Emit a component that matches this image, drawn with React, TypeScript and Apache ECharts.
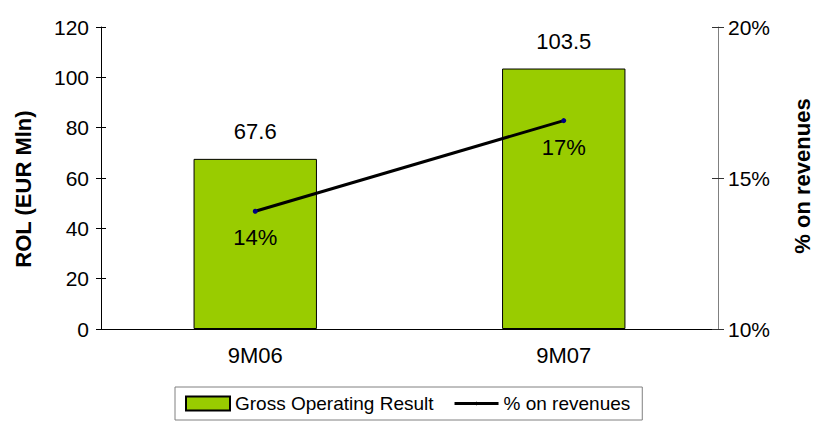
import React, { useEffect, useRef } from "react";
import * as echarts from "echarts";

const categories = ["9M06", "9M07"];
const grossOperatingResult = [67.6, 103.5];
const pctOnRevenues = [13.9, 16.9];
const leftTicks = { min: 0, max: 120, interval: 20 };
const rightTicks = { min: 10, max: 20, interval: 5 };
const leftTitle = "ROL (EUR Mln)";
const rightTitle = "% on revenues";

const FONT = "Liberation Sans, Arial, sans-serif";

export default function App() {
  const ref = useRef<HTMLDivElement>(null);
  useEffect(() => {
    if (!ref.current) return;
    const chart = echarts.init(ref.current, null, { renderer: "svg" });
    chart.setOption({
      animation: false,
      textStyle: { fontFamily: FONT, color: "#000" },
      grid: { left: 101, right: 96, top: 27, bottom: 97, containLabel: false, outerBoundsMode: "none" },
      legend: {
        left: 175,
        top: 387,
        padding: [7, 12, 7, 10],
        borderColor: "#808080",
        borderWidth: 1,
        itemGap: 21,
        itemWidth: 44,
        itemHeight: 14,
        symbolKeepAspect: true,
        textStyle: { fontSize: 19, color: "#000", fontFamily: FONT },
        data: [
          { name: "Gross Operating Result", icon: "rect" },
          {
            name: "% on revenues",
            icon: "path://M0,0.6 L44,0.6 L44,3.4 L0,3.4 Z M22,0 L24,2 L22,4 L20,2 Z",
            itemStyle: { color: "#000" },
          },
        ],
      },
      graphic: [
        {
          type: "text",
          x: 23.5,
          y: 189,
          rotation: Math.PI / 2,
          style: {
            text: leftTitle,
            font: `bold 22px ${FONT}`,
            fill: "#000",
            textAlign: "center",
            textVerticalAlign: "middle",
          },
        },
        {
          type: "text",
          x: 802,
          y: 176,
          rotation: Math.PI / 2,
          style: {
            text: rightTitle,
            font: `bold 22px ${FONT}`,
            fill: "#000",
            textAlign: "center",
            textVerticalAlign: "middle",
          },
        },
      ],
      xAxis: {
        type: "category",
        data: categories,
        axisLine: { lineStyle: { color: "#000", width: 1 } },
        axisTick: { show: false },
        axisLabel: { fontSize: 22, color: "#000", margin: 15, fontFamily: FONT },
      },
      yAxis: [
        {
          type: "value",
          min: leftTicks.min,
          max: leftTicks.max,
          interval: leftTicks.interval,
          position: "left",
          axisLine: { show: true, lineStyle: { color: "#000" } },
          axisTick: { show: true, length: 5, lineStyle: { color: "#000" } },
          splitLine: { show: false },
          axisLabel: { fontSize: 21, color: "#000", margin: 12, fontFamily: FONT },
        },
        {
          type: "value",
          min: rightTicks.min,
          max: rightTicks.max,
          interval: rightTicks.interval,
          position: "right",
          axisLine: { show: true, lineStyle: { color: "#808080" } },
          axisTick: { show: true, length: 6, lineStyle: { color: "#333" } },
          splitLine: { show: false },
          axisLabel: { fontSize: 21, color: "#000", margin: 10, formatter: "{value}%", fontFamily: FONT },
        },
        {
          type: "value",
          min: leftTicks.min,
          max: leftTicks.max,
          interval: leftTicks.interval,
          position: "left",
          axisLine: { show: false },
          axisTick: { show: true, inside: true, length: 5, lineStyle: { color: "#000" } },
          axisLabel: { show: false },
          splitLine: { show: false },
        },
        {
          type: "value",
          min: rightTicks.min,
          max: rightTicks.max,
          interval: rightTicks.interval,
          position: "right",
          axisLine: { show: false },
          axisTick: { show: true, inside: true, length: 6, lineStyle: { color: "#333" } },
          axisLabel: { show: false },
          splitLine: { show: false },
        },
      ],
      series: [
        {
          name: "Gross Operating Result",
          type: "bar",
          yAxisIndex: 0,
          data: grossOperatingResult,
          barWidth: "40%",
          itemStyle: { color: "#99CC00", borderColor: "#000", borderWidth: 1 },
          label: {
            show: true,
            position: "top",
            distance: 16,
            fontSize: 22,
            color: "#000",
            fontFamily: FONT,
            formatter: (p: any) => p.value.toFixed(1),
          },
          z: 2,
        },
        {
          name: "% on revenues",
          type: "line",
          yAxisIndex: 1,
          data: pctOnRevenues,
          symbol: "circle",
          symbolSize: 5,
          lineStyle: { color: "#000", width: 3 },
          itemStyle: { color: "#000080" },
          label: {
            show: true,
            position: "bottom",
            distance: 13,
            fontSize: 22,
            color: "#000",
            fontFamily: FONT,
            formatter: (p: any) => `${Math.round(p.value)}%`,
          },
          z: 3,
        },
      ],
    });
    return () => chart.dispose();
  }, []);
  return (
    <div
      ref={ref}
      style={{ position: "fixed", left: 0, top: 0, width: 814, height: 426, background: "#fff" }}
    />
  );
}
